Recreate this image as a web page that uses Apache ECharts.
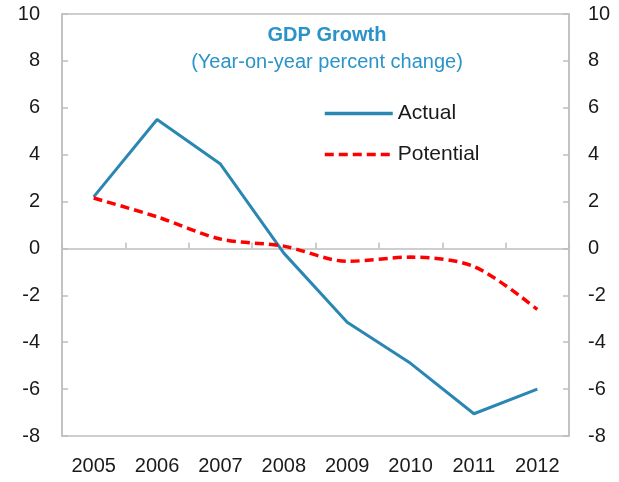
<!DOCTYPE html>
<html>
<head>
<meta charset="utf-8">
<script src="https://cdn.jsdelivr.net/npm/echarts@6/dist/echarts.min.js"></script>
<style>
  html, body { margin: 0; padding: 0; background: #fff; }
  #chart { width: 619px; height: 482px; }
</style>
</head>
<body>
<div id="chart"></div>
<script>
// GDP growth, actual vs potential
var years = ['2005', '2006', '2007', '2008', '2009', '2010', '2011', '2012'];
var actual = [2.2, 5.5, 3.6, -0.2, -3.15, -4.9, -7.05, -6.0];
var potential = [2.15, 1.35, 0.4, 0.1, -0.55, -0.37, -0.77, -2.6];
var yTicks = { min: -8, max: 10, interval: 2 };

var e = echarts.init(document.getElementById('chart'));
var font = 'Liberation Sans';

var yAxisBase = function (pos) {
    return {
        type: 'value',
        position: pos,
        min: yTicks.min,
        max: yTicks.max,
        interval: yTicks.interval,
        splitLine: { show: false },
        axisLine: { show: true, lineStyle: { color: '#bfbfbf', width: 1.5 } },
        axisTick: { show: true, inside: true, length: 6, lineStyle: { color: '#bfbfbf', width: 1.5 } },
        axisLabel: { color: '#1a1a1a', fontSize: 20, fontFamily: font, margin: pos === 'left' ? 22 : 19 }
    };
};

var option = {
    animation: false,
    title: {
        text: 'GDP Growth',
        subtext: '(Year-on-year percent change)',
        left: 322,
        textAlign: 'center',
        top: 20,
        itemGap: 7,
        textStyle: { color: '#2a93c9', fontSize: 20, fontWeight: 'bold', fontFamily: font },
        subtextStyle: { color: '#2a93c9', fontSize: 20, fontFamily: font }
    },
    legend: {
        orient: 'vertical',
        left: 318,
        top: 98,
        itemWidth: 68,
        itemHeight: 14,
        itemGap: 20,
        itemStyle: { color: 'transparent', borderWidth: 0 },
        lineStyle: { width: 3.5 },
        textStyle: { color: '#1a1a1a', fontSize: 21, fontFamily: font },
        data: ['Actual', 'Potential']
    },
    grid: {
        left: 62,
        right: 50,
        top: 14,
        bottom: 46,
        show: true,
        borderColor: '#bfbfbf',
        borderWidth: 1.5
    },
    xAxis: [
        {
            type: 'category',
            data: years,
            position: 'bottom',
            axisLine: { onZero: false, show: false },
            axisTick: { show: false },
            axisLabel: { color: '#1a1a1a', fontSize: 20, fontFamily: font, margin: 20 }
        },
        {
            type: 'category',
            data: years,
            position: 'bottom',
            axisLine: { onZero: true, lineStyle: { color: '#bfbfbf', width: 1.5 } },
            axisTick: { show: true, inside: true, length: 6, lineStyle: { color: '#bfbfbf', width: 1.5 } },
            axisLabel: { show: false }
        }
    ],
    yAxis: [yAxisBase('left'), yAxisBase('right')],
    series: [
        {
            name: 'Actual',
            type: 'line',
            xAxisIndex: 0,
            yAxisIndex: 0,
            symbol: 'none',
            data: actual,
            itemStyle: { color: '#2a86b3' },
            lineStyle: { color: '#2a86b3', width: 3 }
        },
        {
            name: 'Potential',
            type: 'line',
            xAxisIndex: 0,
            yAxisIndex: 0,
            symbol: 'none',
            smooth: 0.3,
            data: potential,
            itemStyle: { color: '#ff0000' },
            lineStyle: { color: '#ff0000', width: 3.5, type: [9, 5] }
        }
    ]
};
e.setOption(option);
</script>
</body>
</html>
